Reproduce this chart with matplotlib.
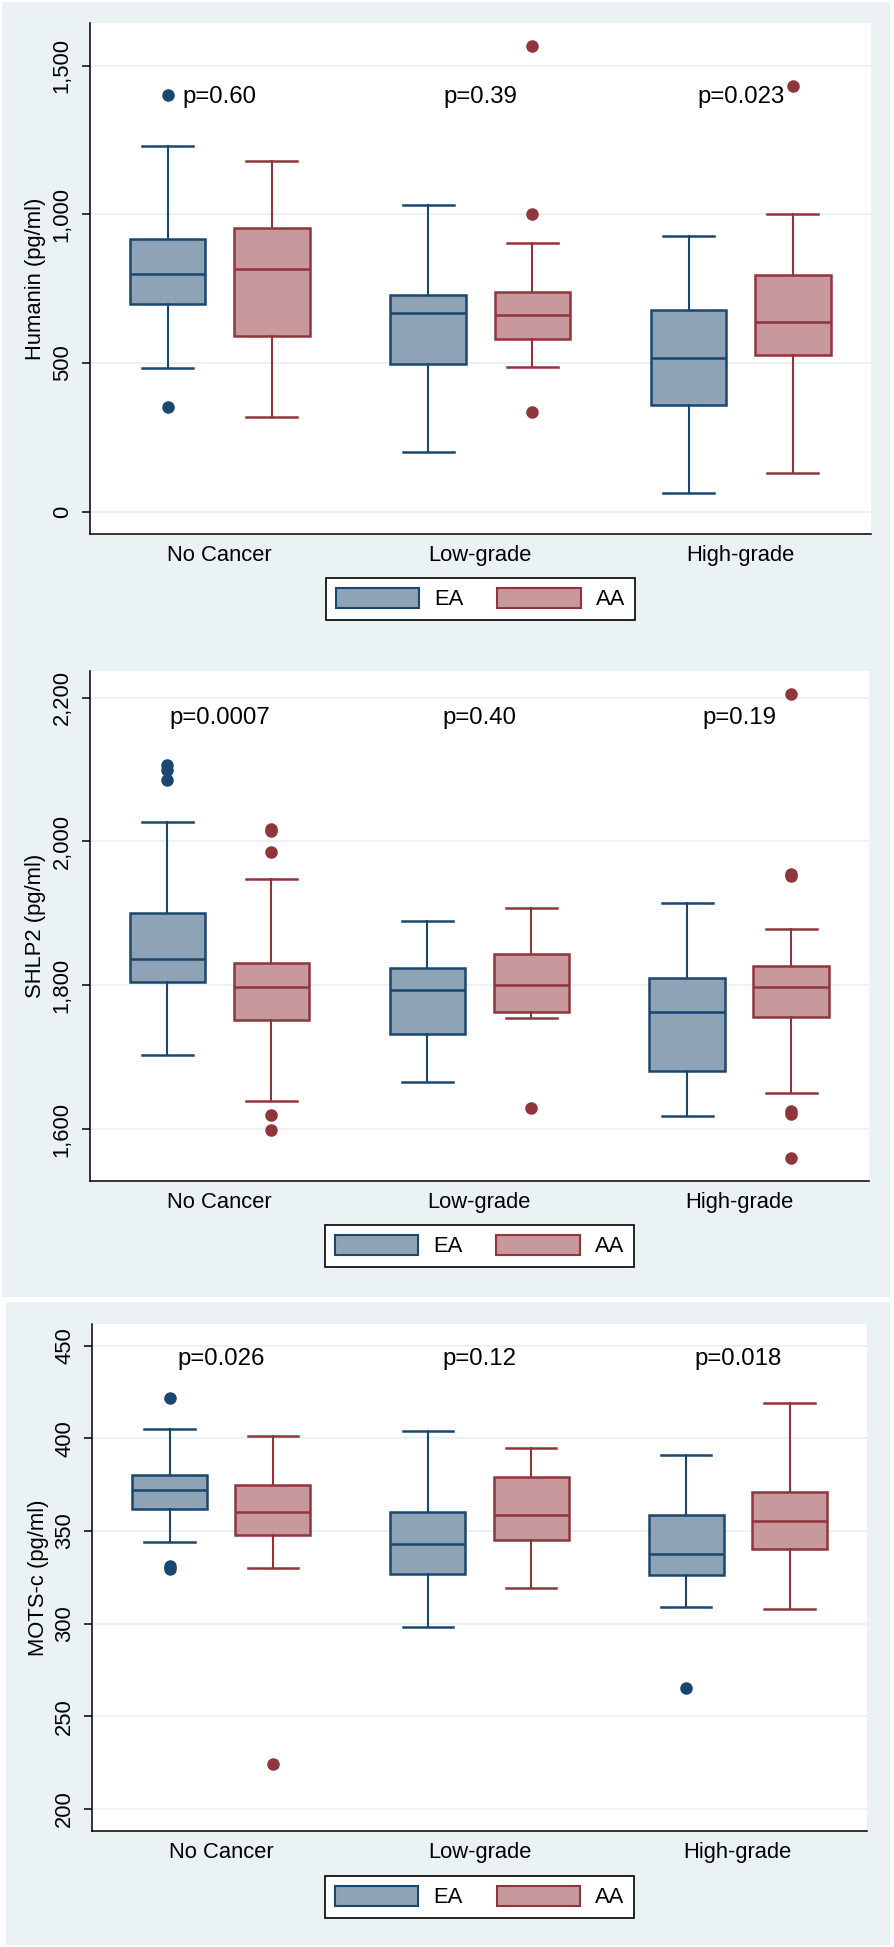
import matplotlib
matplotlib.use('Agg')
import matplotlib.pyplot as plt
from matplotlib.patches import Rectangle, Patch
from matplotlib.ticker import FuncFormatter

plt.rcParams['font.family'] = ['Liberation Sans', 'DejaVu Sans']

W, H, DPI = 894, 1947, 100
FS = 15.8
PFS = 17.3

groups = ['No Cancer', 'Low-grade', 'High-grade']
races = ['EA', 'AA']

# five-number summaries per group: (lower whisker, Q1, median, Q3, upper whisker)
humanin_ea = [(484, 698, 800, 916, 1228), (201, 498, 668, 728, 1030), (64, 360, 517, 677, 926)]
humanin_aa = [(319, 591, 817, 953, 1178), (485, 581, 662, 740, 902), (130, 527, 638, 795, 1000)]
humanin_ea_out = [[1400, 351], [], []]
humanin_aa_out = [[], [1567, 1000, 335], [1430]]
humanin_p = ['p=0.60', 'p=0.39', 'p=0.023']

shlp2_ea = [(1703, 1804, 1836, 1900, 2027), (1666, 1732, 1793, 1824, 1890), (1618, 1681, 1763, 1810, 1914)]
shlp2_aa = [(1639, 1752, 1798, 1831, 1948), (1754, 1763, 1800, 1843, 1907), (1651, 1756, 1798, 1827, 1879)]
shlp2_ea_out = [[2106, 2099, 2085], [], []]
shlp2_aa_out = [[2017, 2015, 1985, 1620, 1599], [1629], [2205, 1955, 1952, 1625, 1621, 1560]]
shlp2_p = ['p=0.0007', 'p=0.40', 'p=0.19']

motsc_ea = [(344, 362, 372, 380, 405), (298, 327, 343, 360, 404), (309, 326, 337.5, 358.5, 391)]
motsc_aa = [(330, 348, 360, 375, 401.5), (319, 345, 358.5, 379, 395), (308, 340, 355.5, 371, 419)]
motsc_ea_out = [[422, 331, 329.5], [], [265]]
motsc_aa_out = [[224], [], []]
motsc_p = ['p=0.026', 'p=0.12', 'p=0.018']

BG = '#eaf2f3'
EA_FILL, EA_EDGE = '#8ea3b6', '#1a476f'
AA_FILL, AA_EDGE = '#c8999c', '#90353b'


def to_stats(summ, outs):
    stats = []
    for (lo, q1, med, q3, hi), fl in zip(summ, outs):
        stats.append(dict(whislo=lo, q1=q1, med=med, q3=q3, whishi=hi, fliers=fl))
    return stats


def draw_panel(fig, rect, legend_top, ylabel, yticks, ylim, p_y, ea, aa, ea_out, aa_out, ptexts):
    left, top, right, bottom = rect
    ax = fig.add_axes([left / W, 1 - bottom / H, (right - left) / W, (bottom - top) / H])
    ax.set_facecolor('white')
    x = range(len(groups))
    for summ, outs, off, fc, ec in [(ea, ea_out, -0.2, EA_FILL, EA_EDGE),
                                    (aa, aa_out, 0.2, AA_FILL, AA_EDGE)]:
        ax.bxp(to_stats(summ, outs), positions=[i + off for i in x], widths=0.29,
               capwidths=0.196, patch_artist=True, manage_ticks=False,
               boxprops=dict(facecolor=fc, edgecolor=ec, linewidth=1.8),
               whiskerprops=dict(color=ec, linewidth=1.5),
               capprops=dict(color=ec, linewidth=1.8),
               medianprops=dict(color=ec, linewidth=1.8),
               flierprops=dict(marker='o', markerfacecolor=ec, markeredgecolor=ec,
                               markersize=8))
    for i, t in enumerate(ptexts):
        ax.text(i, p_y, t, ha='center', va='center', fontsize=PFS)
    ax.set_xlim(-0.5, 2.5)
    ax.set_ylim(*ylim)
    ax.set_xticks(list(x))
    ax.set_xticklabels(groups, fontsize=FS)
    ax.set_yticks(yticks)
    ax.yaxis.set_major_formatter(FuncFormatter(lambda v, _: f'{v:,.0f}'))
    ax.tick_params(axis='x', length=0, pad=8)
    ax.tick_params(axis='y', length=6, width=1.1, pad=6, labelsize=FS, labelrotation=90)
    plt.setp(ax.get_yticklabels(), va='center')
    ax.set_ylabel(ylabel, fontsize=FS, labelpad=4)
    ax.yaxis.grid(True, color=BG, linewidth=1.5)
    ax.set_axisbelow(True)
    for s in ['top', 'right']:
        ax.spines[s].set_visible(False)
    for s in ['left', 'bottom']:
        ax.spines[s].set_linewidth(1.1)

    handles = [Patch(facecolor=EA_FILL, edgecolor=EA_EDGE, linewidth=1.5),
               Patch(facecolor=AA_FILL, edgecolor=AA_EDGE, linewidth=1.5)]
    leg = fig.legend(handles, races, loc='upper center', ncol=2,
                     bbox_to_anchor=((left + right) / 2 / W, 1 - legend_top / H),
                     borderaxespad=0, frameon=True, fancybox=False, edgecolor='black',
                     framealpha=1, fontsize=FS, handlelength=3.8, handleheight=1.0,
                     handletextpad=0.68, columnspacing=1.55, borderpad=0.45)
    leg.get_frame().set_linewidth(1.2)
    return ax


fig = plt.figure(figsize=(W / DPI, H / DPI), dpi=DPI)
fig.patch.set_facecolor('white')
fig.patches.append(Rectangle((2 / W, 1 - 1297 / H), 888 / W, 1295 / H,
                             transform=fig.transFigure, facecolor=BG, edgecolor='none', zorder=-10))
fig.patches.append(Rectangle((6 / W, 1 - 1945 / H), 884 / W, 643 / H,
                             transform=fig.transFigure, facecolor=BG, edgecolor='none', zorder=-10))

draw_panel(fig, (89.5, 23, 871, 534), 578, 'Humanin (pg/ml)', [0, 500, 1000, 1500],
           (-75, 1643), 1393, humanin_ea, humanin_aa, humanin_ea_out, humanin_aa_out, humanin_p)
draw_panel(fig, (89.5, 671, 869, 1181), 1225, 'SHLP2 (pg/ml)', [1600, 1800, 2000, 2200],
           (1528, 2237), 2171, shlp2_ea, shlp2_aa, shlp2_ea_out, shlp2_aa_out, shlp2_p)
draw_panel(fig, (92, 1323.5, 867, 1831), 1876, 'MOTS-c (pg/ml)', [200, 250, 300, 350, 400, 450],
           (188, 462), 442.6, motsc_ea, motsc_aa, motsc_ea_out, motsc_aa_out, motsc_p)

fig.savefig('out.png', dpi=DPI)
